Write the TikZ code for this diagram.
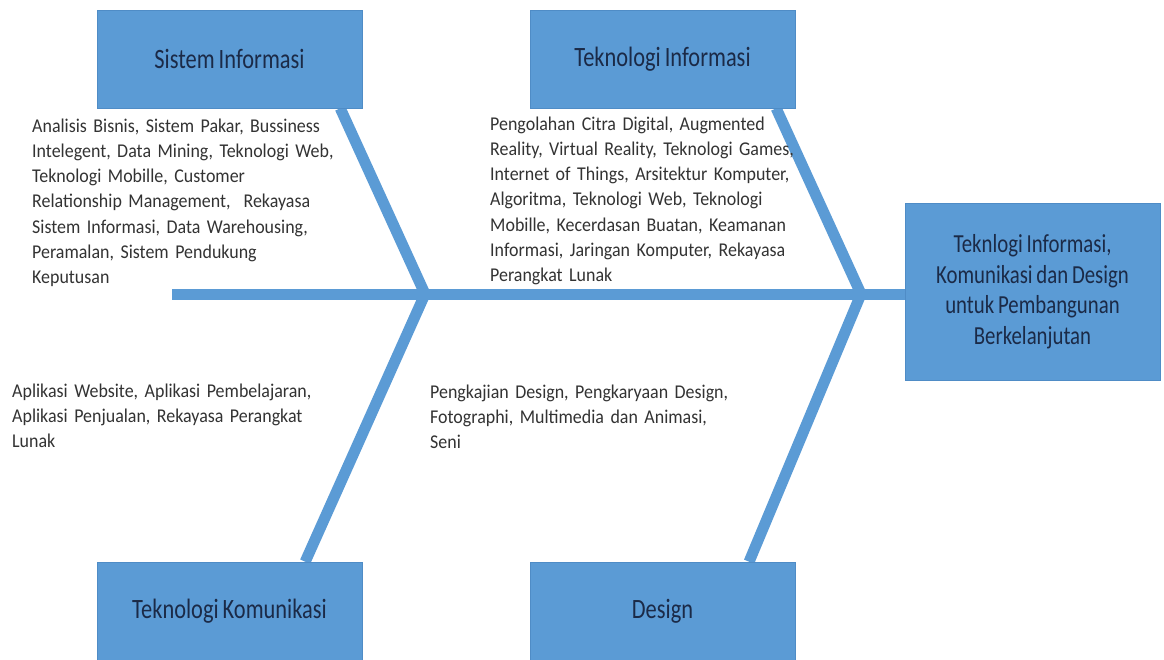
\documentclass[tikz,border=0pt]{standalone}
\usepackage{fontspec}
\setmainfont{Carlito}
\newfontfamily\lblfont{Carlito}[FakeStretch=0.8,WordSpace=0.8]
\newfontfamily\bodyfont{Carlito}[FakeStretch=0.92,WordSpace=0.75]
\usetikzlibrary{backgrounds,calc}
\definecolor{boxblue}{HTML}{5B9BD5}
\definecolor{boxedge}{HTML}{4F8CC6}
\definecolor{lblcol}{HTML}{1B2A47}
\definecolor{bodycol}{HTML}{333333}
\begin{document}
\begin{tikzpicture}[x=1pt,y=-1pt,
  catbox/.style={rectangle, fill=boxblue, draw=boxedge, line width=0.6pt,
    minimum width=265pt, minimum height=98pt, inner sep=0pt,
    font=\lblfont\fontsize{28}{30}\selectfont, text=lblcol},
  goalbox/.style={rectangle, fill=boxblue, draw=boxedge, line width=0.6pt,
    minimum width=255pt, minimum height=177pt, inner sep=0pt, align=center,
    font=\lblfont\fontsize{26}{30.5}\selectfont, text=lblcol},
  bodytext/.style={anchor=base west, inner sep=0pt, text width=340pt, align=left,
    font=\bodyfont\fontsize{19.5}{25.3}\selectfont, text=bodycol},
  bone/.style={draw=boxblue, line width=11pt, line join=round}]
\useasboundingbox (0,0) rectangle (1164,659);

\node[catbox] (si) at (229.5,59) {Sistem Informasi};
\node[catbox] (ti) at (662.5,59) {Teknologi Informasi};
\node[catbox] (tk) at (229.5,611) {Teknologi Komunikasi};
\node[catbox] (de) at (662.5,611) {Design};
\node[goalbox] (goal) at (1032.5,291.5) {Teknlogi Informasi,\\Komunikasi dan Design\\untuk Pembangunan\\Berkelanjutan};

\node[bodytext] (tsi) at (32,132) {Analisis Bisnis, Sistem Pakar, Bussiness\\Intelegent, Data Mining, Teknologi Web,\\Teknologi Mobille, Customer\\Relationship Management, \ Rekayasa\\Sistem Informasi, Data Warehousing,\\Peramalan, Sistem Pendukung\\Keputusan};
\node[bodytext] (tti) at (490,130) {Pengolahan Citra Digital, Augmented\\Reality, Virtual Reality, Teknologi Games,\\Internet of Things, Arsitektur Komputer,\\Algoritma, Teknologi Web, Teknologi\\Mobille, Kecerdasan Buatan, Keamanan\\Informasi, Jaringan Komputer, Rekayasa\\Perangkat Lunak};
\node[bodytext] (ttk) at (12,397) {Aplikasi Website, Aplikasi Pembelajaran,\\Aplikasi Penjualan, Rekayasa Perangkat\\Lunak};
\node[bodytext] (tde) at (430,398) {Pengkajian Design, Pengkaryaan Design,\\Fotographi, Multimedia dan Animasi,\\Seni};

\coordinate (spL) at (172,294);
\coordinate (j1) at (425,294);
\coordinate (j2) at (861,294);

\begin{scope}[on background layer]
\fill[white] (0,0) rectangle (1164,659);
\draw[bone] (spL) -- (spL -| goal.west);
\draw[bone] ($(si.south west)!0.917!(si.south east)$) -- (j1) -- ($(tk.north west)!0.785!(tk.north east)$);
\draw[bone] ($(ti.south west)!0.928!(ti.south east)$) -- (j2) -- ($(de.north west)!0.826!(de.north east)$);
\end{scope}
\end{tikzpicture}
\end{document}
